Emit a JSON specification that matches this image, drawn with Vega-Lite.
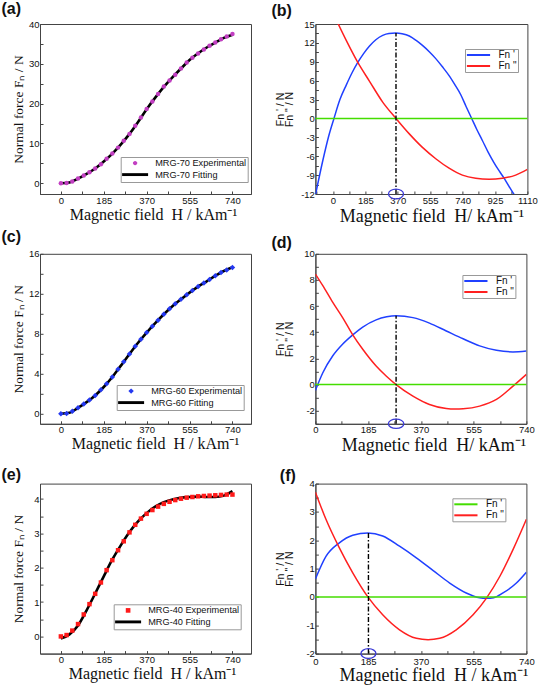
{
  "$schema": "https://vega.github.io/schema/vega-lite/v6.json",
  "background": "white",
  "padding": {"left": 1, "top": 0, "right": 0, "bottom": 0},
  "autosize": {"type": "pad"},
  "datasets": {
    "a_exp": [{"x":0,"y":0.0},{"x":24.7,"y":0.05},{"x":49.3,"y":0.45},{"x":74,"y":1.2},{"x":98.7,"y":1.95},{"x":123.3,"y":2.75},{"x":148,"y":3.7},{"x":172.7,"y":4.8},{"x":197.3,"y":6.15},{"x":222,"y":7.45},{"x":246.7,"y":8.95},{"x":271.3,"y":10.65},{"x":296,"y":12.4},{"x":320.7,"y":14.45},{"x":345.3,"y":16.5},{"x":370,"y":18.65},{"x":394.7,"y":20.55},{"x":419.3,"y":22.4},{"x":444,"y":24.3},{"x":468.7,"y":25.8},{"x":493.3,"y":27.25},{"x":518,"y":28.8},{"x":542.7,"y":30.35},{"x":567.3,"y":31.55},{"x":592,"y":32.6},{"x":616.7,"y":33.6},{"x":641.3,"y":34.55},{"x":666,"y":35.35},{"x":690.7,"y":36.15},{"x":715.3,"y":36.85},{"x":740,"y":37.5}],
    "a_fit": [{"x":0,"y":0.0},{"x":37,"y":0.2},{"x":74,"y":1.15},{"x":111,"y":2.35},{"x":148,"y":3.7},{"x":185,"y":5.45},{"x":222,"y":7.45},{"x":259,"y":9.75},{"x":296,"y":12.4},{"x":333,"y":15.4},{"x":370,"y":18.6},{"x":407,"y":21.5},{"x":444,"y":24.2},{"x":481,"y":26.6},{"x":518,"y":28.8},{"x":555,"y":30.95},{"x":592,"y":32.65},{"x":629,"y":34.1},{"x":666,"y":35.35},{"x":703,"y":36.5},{"x":740,"y":37.3}],
    "c_exp": [{"x":0,"y":0.0},{"x":24.7,"y":0.02},{"x":49.3,"y":0.25},{"x":74,"y":0.6},{"x":98.7,"y":0.98},{"x":123.3,"y":1.37},{"x":148,"y":1.84},{"x":172.7,"y":2.4},{"x":197.3,"y":3.0},{"x":222,"y":3.68},{"x":246.7,"y":4.45},{"x":271.3,"y":5.2},{"x":296,"y":5.98},{"x":320.7,"y":6.75},{"x":345.3,"y":7.45},{"x":370,"y":8.12},{"x":394.7,"y":8.75},{"x":419.3,"y":9.36},{"x":444,"y":9.95},{"x":468.7,"y":10.5},{"x":493.3,"y":11.0},{"x":518,"y":11.45},{"x":542.7,"y":11.9},{"x":567.3,"y":12.33},{"x":592,"y":12.72},{"x":616.7,"y":13.07},{"x":641.3,"y":13.44},{"x":666,"y":13.8},{"x":690.7,"y":14.13},{"x":715.3,"y":14.38},{"x":740,"y":14.62}],
    "c_fit": [{"x":0,"y":0.0},{"x":37,"y":0.1},{"x":74,"y":0.6},{"x":111,"y":1.17},{"x":148,"y":1.84},{"x":185,"y":2.68},{"x":222,"y":3.68},{"x":259,"y":4.82},{"x":296,"y":5.98},{"x":333,"y":7.1},{"x":370,"y":8.12},{"x":407,"y":9.06},{"x":444,"y":9.95},{"x":481,"y":10.75},{"x":518,"y":11.45},{"x":555,"y":12.12},{"x":592,"y":12.72},{"x":629,"y":13.25},{"x":666,"y":13.8},{"x":703,"y":14.28},{"x":740,"y":14.65}],
    "e_exp": [{"x":0,"y":0.0},{"x":24.7,"y":0.04},{"x":49.3,"y":0.17},{"x":74,"y":0.36},{"x":98.7,"y":0.64},{"x":123.3,"y":0.94},{"x":148,"y":1.24},{"x":172.7,"y":1.57},{"x":197.3,"y":1.93},{"x":222,"y":2.22},{"x":246.7,"y":2.51},{"x":271.3,"y":2.77},{"x":296,"y":3.03},{"x":320.7,"y":3.25},{"x":345.3,"y":3.43},{"x":370,"y":3.57},{"x":394.7,"y":3.68},{"x":419.3,"y":3.78},{"x":444,"y":3.86},{"x":468.7,"y":3.92},{"x":493.3,"y":3.97},{"x":518,"y":4.01},{"x":542.7,"y":4.04},{"x":567.3,"y":4.06},{"x":592,"y":4.08},{"x":616.7,"y":4.09},{"x":641.3,"y":4.1},{"x":666,"y":4.11},{"x":690.7,"y":4.12},{"x":715.3,"y":4.13},{"x":740,"y":4.13}],
    "e_fit": [{"x":0,"y":-0.06},{"x":37,"y":0.06},{"x":74,"y":0.32},{"x":111,"y":0.76},{"x":148,"y":1.25},{"x":185,"y":1.75},{"x":222,"y":2.24},{"x":259,"y":2.66},{"x":296,"y":3.04},{"x":333,"y":3.35},{"x":370,"y":3.59},{"x":407,"y":3.78},{"x":444,"y":3.91},{"x":481,"y":3.99},{"x":518,"y":4.04},{"x":555,"y":4.06},{"x":592,"y":4.07},{"x":629,"y":4.06},{"x":666,"y":4.06},{"x":703,"y":4.1},{"x":740,"y":4.23}],
    "b_p": [{"x":-100,"y":-12.2},{"x":-57,"y":-6.6},{"x":-25,"y":-2.9},{"x":6,"y":0},{"x":40,"y":3.0},{"x":76,"y":5.3},{"x":110,"y":7.3},{"x":142,"y":8.9},{"x":175,"y":10.3},{"x":209,"y":11.5},{"x":245,"y":12.5},{"x":284,"y":13.2},{"x":320,"y":13.5},{"x":358,"y":13.56},{"x":395,"y":13.45},{"x":436,"y":13.1},{"x":475,"y":12.4},{"x":511,"y":11.6},{"x":550,"y":10.6},{"x":587,"y":9.5},{"x":625,"y":8.2},{"x":663,"y":6.8},{"x":695,"y":5.4},{"x":729,"y":3.8},{"x":760,"y":1.9},{"x":792,"y":0},{"x":822,"y":-1.8},{"x":853,"y":-3.5},{"x":885,"y":-5.3},{"x":919,"y":-7.0},{"x":948,"y":-8.3},{"x":975,"y":-9.4},{"x":1005,"y":-10.8},{"x":1032,"y":-12.0},{"x":1045,"y":-12.6}],
    "b_pp": [{"x":20,"y":15.6},{"x":76,"y":12.4},{"x":142,"y":8.9},{"x":209,"y":5.9},{"x":284,"y":2.6},{"x":360,"y":0},{"x":436,"y":-2.45},{"x":511,"y":-4.6},{"x":587,"y":-6.4},{"x":663,"y":-7.9},{"x":739,"y":-9.0},{"x":815,"y":-9.5},{"x":891,"y":-9.65},{"x":967,"y":-9.5},{"x":1043,"y":-9.0},{"x":1110,"y":-8.1}],
    "b_mark": [{"h":360,"lo":-12,"hi":13.56}],
    "d_p": [{"x":0,"y":-0.45},{"x":26,"y":0.9},{"x":61,"y":2.2},{"x":96,"y":3.1},{"x":131,"y":3.8},{"x":166,"y":4.4},{"x":213,"y":4.95},{"x":250,"y":5.18},{"x":283,"y":5.26},{"x":342,"y":5.12},{"x":400,"y":4.7},{"x":459,"y":4.1},{"x":518,"y":3.5},{"x":576,"y":2.96},{"x":635,"y":2.62},{"x":693,"y":2.5},{"x":740,"y":2.57}],
    "d_pp": [{"x":0,"y":8.45},{"x":26,"y":7.56},{"x":61,"y":6.28},{"x":96,"y":5.1},{"x":131,"y":3.8},{"x":166,"y":2.7},{"x":213,"y":1.42},{"x":250,"y":0.62},{"x":283,"y":0},{"x":342,"y":-0.88},{"x":400,"y":-1.52},{"x":459,"y":-1.83},{"x":490,"y":-1.87},{"x":518,"y":-1.85},{"x":576,"y":-1.65},{"x":635,"y":-1.14},{"x":693,"y":-0.12},{"x":740,"y":0.78}],
    "d_mark": [{"h":283,"lo":-3,"hi":5.26}],
    "f_p": [{"x":0,"y":0.63},{"x":37,"y":1.43},{"x":84,"y":1.91},{"x":131,"y":2.18},{"x":184,"y":2.26},{"x":236,"y":2.15},{"x":295,"y":1.79},{"x":354,"y":1.38},{"x":412,"y":0.94},{"x":471,"y":0.49},{"x":529,"y":0.14},{"x":576,"y":-0.03},{"x":600,"y":-0.05},{"x":625,"y":-0.03},{"x":658,"y":0.14},{"x":705,"y":0.49},{"x":740,"y":0.87}],
    "f_pp": [{"x":0,"y":3.7},{"x":37,"y":2.74},{"x":84,"y":1.73},{"x":131,"y":0.85},{"x":184,"y":0},{"x":236,"y":-0.63},{"x":295,"y":-1.16},{"x":354,"y":-1.46},{"x":395,"y":-1.51},{"x":436,"y":-1.46},{"x":494,"y":-1.16},{"x":553,"y":-0.63},{"x":600,"y":-0.04},{"x":647,"y":0.73},{"x":693,"y":1.67},{"x":740,"y":2.74}],
    "f_mark": [{"h":186,"lo":-2,"hi":2.26}]
  },
  "concat": [
    {
      "width": 211, "height": 170,
      "title": {"text": "(a)", "dx": -38.5, "offset": 2.5},
      "layer": [
        {"data": {"name": "a_fit"}, "mark": {"type": "line", "strokeWidth": 2.6, "interpolate": "monotone"},
         "encoding": {
           "x": {"field": "x", "type": "quantitative", "scale": {"domain": [-90, 820], "nice": false, "zero": false},
                 "axis": {"values": [0,92.5,185,277.5,370,462.5,555,647.5,740], "tickCount": 40, "labelOverlap": false, "labelExpr": "datum.value % 185 === 0 ? datum.value + '' : ''", "title": "Magnetic field\u00a0 H / kAm⁻¹", "titleFontSize": 16, "titleBaseline": "alphabetic", "titleY": 25, "titleX": 113}},
           "y": {"field": "y", "type": "quantitative", "scale": {"domain": [-2.7, 40], "nice": false, "zero": false},
                 "axis": {"values": [0,5,10,15,20,25,30,35,40], "tickCount": 40, "labelOverlap": false, "labelExpr": "datum.value % 10 === 0 ? datum.value + '' : ''", "title": "Normal force Fₙ / N", "titleFontSize": 13.5, "titleBaseline": "alphabetic", "titleX": -18}},
           "color": {"datum": "MRG-70 Fitting", "type": "nominal",
             "scale": {"domain": ["MRG-70 Experimental", "MRG-70 Fitting"], "range": ["#c23fc2", "#000000"]},
             "legend": {"legendX": 80.7, "legendY": 133, "symbolSize": 64, "symbolStrokeWidth": 0, "symbolOffset": 8.3, "labelOffset": 15.5, "labelFontSize": 9.2, "padding": 1.5, "rowPadding": 1.5,
               "symbolType": {"expr": "indexof(datum.value,'Fitting')>=0 ? 'M-3.25,-0.36H3.25V0.36H-3.25Z' : 'M-0.55,0A0.55,0.55,0,1,1,0.55,0A0.55,0.55,0,1,1,-0.55,0Z'"}}}
         }},
        {"data": {"name": "a_exp"}, "mark": {"type": "point", "filled": true, "shape": "circle", "size": 20, "opacity": 1},
         "encoding": {
           "x": {"field": "x", "type": "quantitative", "scale": {"domain": [-90, 820], "nice": false, "zero": false}},
           "y": {"field": "y", "type": "quantitative", "scale": {"domain": [-2.7, 40], "nice": false, "zero": false}},
           "color": {"datum": "MRG-70 Experimental", "type": "nominal"}
         }}
      ]
    },
    {
      "width": 212, "height": 170,
      "title": {"text": "(b)", "dx": -43.9, "offset": -0.2},
      "layer": [
        {"data": {"name": "b_p"}, "mark": {"type": "line", "strokeWidth": 1.5, "interpolate": "monotone", "clip": true},
         "encoding": {
           "x": {"field": "x", "type": "quantitative", "scale": {"domain": [-100, 1110], "nice": false, "zero": false},
                 "axis": {"values": [-92.5,0,92.5,185,277.5,370,462.5,555,647.5,740,832.5,925,1017.5,1110], "tickCount": 40, "labelOverlap": false, "labelExpr": "datum.value % 185 === 0 ? datum.value + '' : ''", "title": "Magnetic field\u00a0 H/ kAm⁻¹", "titleFontSize": 18, "titleBaseline": "alphabetic", "titleY": 27, "titleX": 116}},
           "y": {"field": "y", "type": "quantitative", "scale": {"domain": [-12, 15], "nice": false, "zero": false},
                 "axis": {"values": [-12,-10.5,-9,-7.5,-6,-4.5,-3,-1.5,0,1.5,3,4.5,6,7.5,9,10.5,12,13.5,15], "tickCount": 40, "labelOverlap": false, "labelExpr": "datum.value % 3 === 0 ? datum.value + '' : ''", "title": ["Fn ' / N", "Fn \" / N"], "titleFont": "Liberation Sans", "titleFontSize": 10.5, "titleLineHeight": 9, "titleBaseline": "alphabetic", "titleX": -31.7}},
           "color": {"datum": "Fn '", "type": "nominal",
             "scale": {"domain": ["Fn '", "Fn \""], "range": ["#2040ff", "#ff2020"]},
             "legend": {"legendX": 149.6, "legendY": 25, "symbolType": "M-2.9,0H2.9", "symbolSize": 64, "symbolStrokeWidth": 2, "symbolOffset": 7.5, "labelOffset": 15, "labelFontSize": 10, "padding": 1}}
         }},
        {"data": {"name": "b_pp"}, "mark": {"type": "line", "strokeWidth": 1.5, "interpolate": "monotone", "clip": true},
         "encoding": {
           "x": {"field": "x", "type": "quantitative", "scale": {"domain": [-100, 1110], "nice": false, "zero": false}},
           "y": {"field": "y", "type": "quantitative", "scale": {"domain": [-12, 15], "nice": false, "zero": false}},
           "color": {"datum": "Fn \"", "type": "nominal"}
         }},
        {"data": {"values": [{}]}, "mark": {"type": "rule", "color": "#44dd00", "strokeWidth": 1.6},
         "encoding": {"y": {"datum": 0, "type": "quantitative", "scale": {"domain": [-12, 15], "nice": false, "zero": false}}}},
        {"data": {"name": "b_mark"}, "mark": {"type": "rule", "color": "#000000", "strokeWidth": 1.4, "strokeDash": [5, 2, 1.5, 2]},
         "encoding": {
           "x": {"field": "h", "type": "quantitative", "scale": {"domain": [-100, 1110], "nice": false, "zero": false}},
           "y": {"field": "lo", "type": "quantitative", "scale": {"domain": [-12, 15], "nice": false, "zero": false}},
           "y2": {"field": "hi"}
         }},
        {"data": {"name": "b_mark"}, "mark": {"type": "point", "filled": false, "shape": "M-1,0A1,0.65,0,1,1,1,0A1,0.65,0,1,1,-1,0Z", "size": 225, "strokeWidth": 1.3, "color": "#3b3bd6", "opacity": 1},
         "encoding": {
           "x": {"field": "h", "type": "quantitative", "scale": {"domain": [-100, 1110], "nice": false, "zero": false}},
           "y": {"field": "lo", "type": "quantitative", "scale": {"domain": [-12, 15], "nice": false, "zero": false}}
         }}
      ]
    },
    {
      "width": 211, "height": 170,
      "title": {"text": "(c)", "dx": -38.5, "offset": 3.4},
      "layer": [
        {"data": {"name": "c_fit"}, "mark": {"type": "line", "strokeWidth": 2.6, "interpolate": "monotone"},
         "encoding": {
           "x": {"field": "x", "type": "quantitative", "scale": {"domain": [-90, 820], "nice": false, "zero": false},
                 "axis": {"values": [0,92.5,185,277.5,370,462.5,555,647.5,740], "tickCount": 40, "labelOverlap": false, "labelExpr": "datum.value % 185 === 0 ? datum.value + '' : ''", "title": "Magnetic field\u00a0 H / kAm⁻¹", "titleFontSize": 16, "titleBaseline": "alphabetic", "titleY": 25, "titleX": 115}},
           "y": {"field": "y", "type": "quantitative", "scale": {"domain": [-1, 16], "nice": false, "zero": false},
                 "axis": {"values": [0,2,4,6,8,10,12,14,16], "tickCount": 40, "labelOverlap": false, "labelExpr": "datum.value % 4 === 0 ? datum.value + '' : ''", "title": "Normal force Fₙ / N", "titleFontSize": 13.5, "titleBaseline": "alphabetic", "titleX": -18}},
           "color": {"datum": "MRG-60 Fitting", "type": "nominal",
             "scale": {"domain": ["MRG-60 Experimental", "MRG-60 Fitting"], "range": ["#2438f0", "#000000"]},
             "legend": {"legendX": 76.7, "legendY": 131.2, "symbolSize": 64, "symbolStrokeWidth": 0, "symbolOffset": 8.3, "labelOffset": 15.5, "labelFontSize": 9.2, "padding": 1.5, "rowPadding": 1.5,
               "symbolType": {"expr": "indexof(datum.value,'Fitting')>=0 ? 'M-3.25,-0.36H3.25V0.36H-3.25Z' : 'M0,-0.68L0.68,0L0,0.68L-0.68,0Z'"}}}
         }},
        {"data": {"name": "c_exp"}, "mark": {"type": "point", "filled": true, "shape": "diamond", "size": 30, "opacity": 1},
         "encoding": {
           "x": {"field": "x", "type": "quantitative", "scale": {"domain": [-90, 820], "nice": false, "zero": false}},
           "y": {"field": "y", "type": "quantitative", "scale": {"domain": [-1, 16], "nice": false, "zero": false}},
           "color": {"datum": "MRG-60 Experimental", "type": "nominal"}
         }}
      ]
    },
    {
      "width": 211, "height": 170,
      "title": {"text": "(d)", "dx": -43.9, "offset": -2.2},
      "layer": [
        {"data": {"name": "d_p"}, "mark": {"type": "line", "strokeWidth": 1.5, "interpolate": "monotone", "clip": true},
         "encoding": {
           "x": {"field": "x", "type": "quantitative", "scale": {"domain": [0, 740], "nice": false, "zero": false},
                 "axis": {"values": [0,92.5,185,277.5,370,462.5,555,647.5,740], "tickCount": 40, "labelOverlap": false, "labelExpr": "datum.value % 185 === 0 ? datum.value + '' : ''", "title": "Magnetic field\u00a0 H/ kAm⁻¹", "titleFontSize": 18, "titleBaseline": "alphabetic", "titleY": 27, "titleX": 118}},
           "y": {"field": "y", "type": "quantitative", "scale": {"domain": [-3, 10], "nice": false, "zero": false},
                 "axis": {"values": [-3,-2,-1,0,1,2,3,4,5,6,7,8,9,10], "tickCount": 40, "labelOverlap": false, "labelExpr": "datum.value % 2 === 0 ? datum.value + '' : ''", "title": ["Fn ' / N", "Fn \" / N"], "titleFont": "Liberation Sans", "titleFontSize": 10.5, "titleLineHeight": 9, "titleBaseline": "alphabetic", "titleX": -31.7}},
           "color": {"datum": "Fn '", "type": "nominal",
             "scale": {"domain": ["Fn '", "Fn \""], "range": ["#2040ff", "#ff2020"]},
             "legend": {"legendX": 147, "legendY": 21.2, "symbolType": "M-2.9,0H2.9", "symbolSize": 64, "symbolStrokeWidth": 2, "symbolOffset": 7.5, "labelOffset": 15, "labelFontSize": 10, "padding": 1}}
         }},
        {"data": {"name": "d_pp"}, "mark": {"type": "line", "strokeWidth": 1.5, "interpolate": "monotone", "clip": true},
         "encoding": {
           "x": {"field": "x", "type": "quantitative", "scale": {"domain": [0, 740], "nice": false, "zero": false}},
           "y": {"field": "y", "type": "quantitative", "scale": {"domain": [-3, 10], "nice": false, "zero": false}},
           "color": {"datum": "Fn \"", "type": "nominal"}
         }},
        {"data": {"values": [{}]}, "mark": {"type": "rule", "color": "#44dd00", "strokeWidth": 1.6},
         "encoding": {"y": {"datum": 0, "type": "quantitative", "scale": {"domain": [-3, 10], "nice": false, "zero": false}}}},
        {"data": {"name": "d_mark"}, "mark": {"type": "rule", "color": "#000000", "strokeWidth": 1.4, "strokeDash": [5, 2, 1.5, 2]},
         "encoding": {
           "x": {"field": "h", "type": "quantitative", "scale": {"domain": [0, 740], "nice": false, "zero": false}},
           "y": {"field": "lo", "type": "quantitative", "scale": {"domain": [-3, 10], "nice": false, "zero": false}},
           "y2": {"field": "hi"}
         }},
        {"data": {"name": "d_mark"}, "mark": {"type": "point", "filled": false, "shape": "M-1,0A1,0.6,0,1,1,1,0A1,0.6,0,1,1,-1,0Z", "size": 240, "strokeWidth": 1.3, "color": "#3b3bd6", "opacity": 1},
         "encoding": {
           "x": {"field": "h", "type": "quantitative", "scale": {"domain": [0, 740], "nice": false, "zero": false}},
           "y": {"field": "lo", "type": "quantitative", "scale": {"domain": [-3, 10], "nice": false, "zero": false}}
         }}
      ]
    },
    {
      "width": 211, "height": 170,
      "title": {"text": "(e)", "dx": -38.5, "offset": 0.2},
      "layer": [
        {"data": {"name": "e_fit"}, "mark": {"type": "line", "strokeWidth": 2.6, "interpolate": "monotone"},
         "encoding": {
           "x": {"field": "x", "type": "quantitative", "scale": {"domain": [-90, 820], "nice": false, "zero": false},
                 "axis": {"values": [0,92.5,185,277.5,370,462.5,555,647.5,740], "tickCount": 40, "labelOverlap": false, "labelExpr": "datum.value % 185 === 0 ? datum.value + '' : ''", "title": "Magnetic field\u00a0 H / kAm⁻¹", "titleFontSize": 16, "titleBaseline": "alphabetic", "titleY": 25, "titleX": 112}},
           "y": {"field": "y", "type": "quantitative", "scale": {"domain": [-0.5, 4.45], "nice": false, "zero": false},
                 "axis": {"values": [0,0.5,1,1.5,2,2.5,3,3.5,4], "tickCount": 40, "labelOverlap": false, "labelExpr": "datum.value % 1 === 0 ? datum.value + '' : ''", "title": "Normal force Fₙ / N", "titleFontSize": 13.5, "titleBaseline": "alphabetic", "titleX": -18}},
           "color": {"datum": "MRG-40 Fitting", "type": "nominal",
             "scale": {"domain": ["MRG-40 Experimental", "MRG-40 Fitting"], "range": ["#ff1a1a", "#000000"]},
             "legend": {"legendX": 73.7, "legendY": 120.7, "symbolSize": 64, "symbolStrokeWidth": 0, "symbolOffset": 8.3, "labelOffset": 15.5, "labelFontSize": 9.2, "padding": 1.5, "rowPadding": 1.5,
               "symbolType": {"expr": "indexof(datum.value,'Fitting')>=0 ? 'M-3.25,-0.36H3.25V0.36H-3.25Z' : 'M-0.58,-0.58H0.58V0.58H-0.58Z'"}}}
         }},
        {"data": {"name": "e_exp"}, "mark": {"type": "point", "filled": true, "shape": "square", "size": 20, "opacity": 1},
         "encoding": {
           "x": {"field": "x", "type": "quantitative", "scale": {"domain": [-90, 820], "nice": false, "zero": false}},
           "y": {"field": "y", "type": "quantitative", "scale": {"domain": [-0.5, 4.45], "nice": false, "zero": false}},
           "color": {"datum": "MRG-40 Experimental", "type": "nominal"}
         }}
      ]
    },
    {
      "width": 211, "height": 170,
      "title": {"text": "(f)", "dx": -35.6, "offset": -5},
      "layer": [
        {"data": {"name": "f_p"}, "mark": {"type": "line", "strokeWidth": 1.5, "interpolate": "monotone", "clip": true, "color": "#2040ff"},
         "encoding": {
           "x": {"field": "x", "type": "quantitative", "scale": {"domain": [0, 740], "nice": false, "zero": false},
                 "axis": {"values": [0,92.5,185,277.5,370,462.5,555,647.5,740], "tickCount": 40, "labelOverlap": false, "labelPadding": 5.5, "labelExpr": "datum.value % 185 === 0 ? datum.value + '' : ''", "title": "Magnetic field\u00a0 H / kAm⁻¹", "titleFontSize": 18, "titleBaseline": "alphabetic", "titleY": 27, "titleX": 118}},
           "y": {"field": "y", "type": "quantitative", "scale": {"domain": [-2, 4], "nice": false, "zero": false},
                 "axis": {"values": [-2,-1.5,-1,-0.5,0,0.5,1,1.5,2,2.5,3,3.5,4], "tickCount": 40, "labelOverlap": false, "labelExpr": "datum.value % 1 === 0 ? datum.value + '' : ''", "title": ["Fn ' / N", "Fn \" / N"], "titleFont": "Liberation Sans", "titleFontSize": 10.5, "titleLineHeight": 9, "titleBaseline": "alphabetic", "titleX": -31.7}}
         }},
        {"data": {"name": "f_pp"}, "mark": {"type": "line", "strokeWidth": 1.5, "interpolate": "monotone", "clip": true},
         "encoding": {
           "x": {"field": "x", "type": "quantitative", "scale": {"domain": [0, 740], "nice": false, "zero": false}},
           "y": {"field": "y", "type": "quantitative", "scale": {"domain": [-2, 4], "nice": false, "zero": false}},
           "color": {"datum": "Fn \"", "type": "nominal",
             "scale": {"domain": ["Fn '", "Fn \""], "range": ["#44dd00", "#ff2020"]},
             "legend": {"legendX": 137, "legendY": 14.7, "symbolType": "M-2.9,0H2.9", "symbolSize": 64, "symbolStrokeWidth": 2, "symbolOffset": 7.5, "labelOffset": 15, "labelFontSize": 10, "padding": 1}}
         }},
        {"data": {"values": [{}]}, "mark": {"type": "rule", "color": "#44dd00", "strokeWidth": 1.6},
         "encoding": {"y": {"datum": 0, "type": "quantitative", "scale": {"domain": [-2, 4], "nice": false, "zero": false}}}},
        {"data": {"name": "f_mark"}, "mark": {"type": "rule", "color": "#000000", "strokeWidth": 1.4, "strokeDash": [5, 2, 1.5, 2]},
         "encoding": {
           "x": {"field": "h", "type": "quantitative", "scale": {"domain": [0, 740], "nice": false, "zero": false}},
           "y": {"field": "lo", "type": "quantitative", "scale": {"domain": [-2, 4], "nice": false, "zero": false}},
           "y2": {"field": "hi"}
         }},
        {"data": {"name": "f_mark"}, "mark": {"type": "point", "filled": false, "shape": "M-1,0A1,0.65,0,1,1,1,0A1,0.65,0,1,1,-1,0Z", "size": 225, "strokeWidth": 1.3, "color": "#3b3bd6", "opacity": 1},
         "encoding": {
           "x": {"field": "h", "type": "quantitative", "scale": {"domain": [0, 740], "nice": false, "zero": false}},
           "y": {"field": "lo", "type": "quantitative", "scale": {"domain": [-2, 4], "nice": false, "zero": false}}
         }}
      ]
    }
  ],
  "columns": 2,
  "spacing": {"row": 59.8, "column": 64.4},
  "bounds": "flush",
  "resolve": {"scale": {"color": "independent", "x": "independent", "y": "independent"}, "legend": {"color": "independent"}, "axis": {"x": "independent", "y": "independent"}},
  "config": {
    "view": {"stroke": "#444444", "strokeWidth": 1},
    "axis": {"labelFont": "Liberation Sans", "labelFontSize": 9.5, "labelColor": "#111111", "domainColor": "#444444", "tickColor": "#444444", "tickSize": -3, "labelPadding": 4, "grid": false, "labelFlush": false, "labelOverlap": false, "tickCount": 40, "titleFont": "Liberation Serif", "titleFontWeight": "normal", "titleColor": "#111111", "titlePadding": 0},
    "title": {"font": "Liberation Sans", "fontSize": 16, "fontWeight": "bold", "anchor": "start", "frame": "group", "color": "#111111"},
    "legend": {"orient": "none", "title": null, "labelFont": "Liberation Sans", "labelFontSize": 9.5, "labelColor": "#111111", "strokeColor": "#999999", "padding": 2, "rowPadding": 1, "labelOffset": 3}
  }
}
